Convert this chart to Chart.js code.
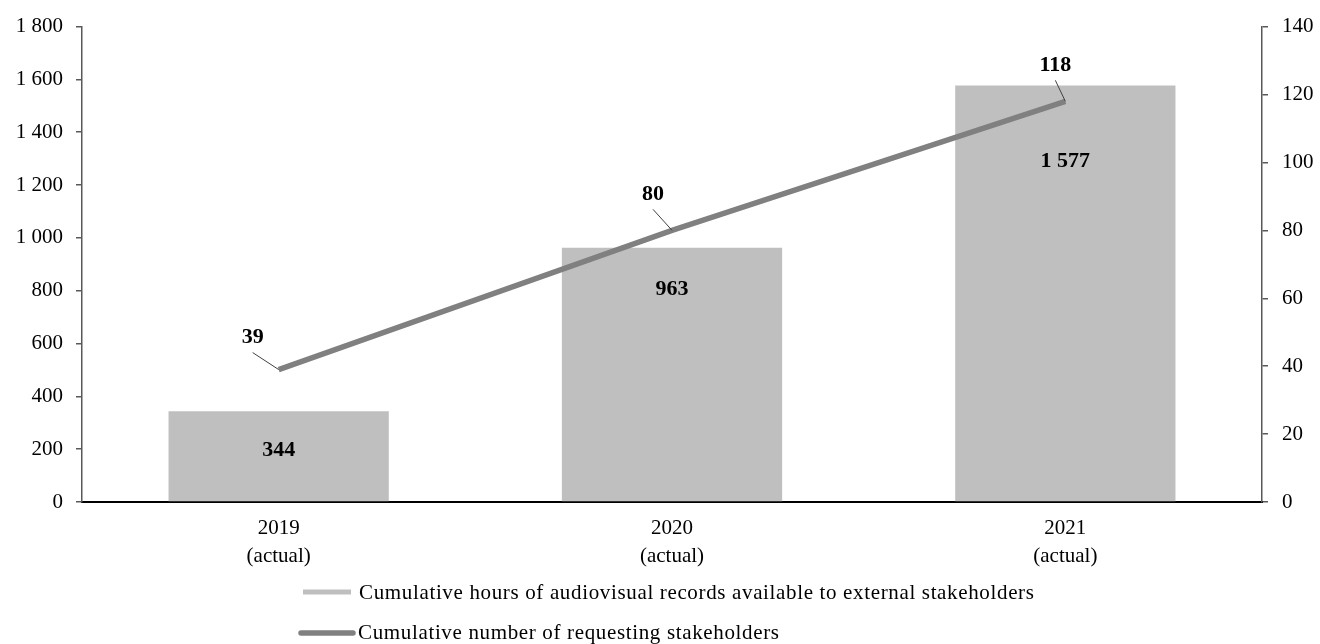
<!DOCTYPE html>
<html>
<head>
<meta charset="utf-8">
<script src="https://cdn.jsdelivr.net/npm/chart.js@4.4.1/dist/chart.umd.min.js"></script>
<style>
  html, body { margin: 0; padding: 0; background: #ffffff; }
  #wrap { width: 1320px; height: 644px; }
</style>
</head>
<body>
<div id="wrap"><canvas id="c" width="1320" height="644"></canvas></div>
<script>
// ---- data ----
const categories = [['2019', '(actual)'], ['2020', '(actual)'], ['2021', '(actual)']];
const hoursValues = [344, 963, 1577];
const stakeholderValues = [39, 80, 118];
const leftTicks = [0, 200, 400, 600, 800, 1000, 1200, 1400, 1600, 1800];
const rightTicks = [0, 20, 40, 60, 80, 100, 120, 140];
const seriesNames = [
  'Cumulative hours of audiovisual records available to external stakeholders',
  'Cumulative number of requesting stakeholders'
];

const SERIF = '"Liberation Serif", "Times New Roman", serif';
const fmt = v => String(v).replace(/\B(?=(\d{3})+(?!\d))/g, ' ');

// label placement styles (pixels)
const barLabelOffsets = [39, 42, 76];          // below bar top
const lineLabelOffsets = [[-26, -32], [-19, -36], [-10, -36]]; // relative to point

const labelPlugin = {
  id: 'labels',
  afterDatasetsDraw(chart) {
    const ctx = chart.ctx;
    ctx.save();
    ctx.font = 'bold 22px ' + SERIF;
    ctx.fillStyle = '#000';
    ctx.textAlign = 'center';
    ctx.textBaseline = 'middle';
    const barMeta = chart.getDatasetMeta(1);
    barMeta.data.forEach((el, i) => {
      ctx.fillText(fmt(hoursValues[i]), el.x, el.y + barLabelOffsets[i]);
    });
    const lineMeta = chart.getDatasetMeta(0);
    lineMeta.data.forEach((el, i) => {
      const [dx, dy] = lineLabelOffsets[i];
      const lx = el.x + dx, ly = el.y + dy;
      ctx.fillText(fmt(stakeholderValues[i]), lx, ly);
      ctx.beginPath();
      ctx.strokeStyle = '#404040';
      ctx.lineWidth = 1;
      ctx.moveTo(lx, ly + 15);
      ctx.lineTo(el.x, el.y);
      ctx.stroke();
    });
    ctx.restore();
  }
};

const legendPlugin = {
  id: 'customLegend',
  afterDraw(chart) {
    const ctx = chart.ctx;
    ctx.save();
    ctx.font = '21px ' + SERIF;
    try { ctx.letterSpacing = '0.65px'; } catch (e) {}
    ctx.fillStyle = '#000';
    ctx.textAlign = 'left';
    ctx.textBaseline = 'middle';
    // item 1
    ctx.beginPath();
    ctx.strokeStyle = '#bfbfbf';
    ctx.lineWidth = 5;
    ctx.lineCap = 'butt';
    ctx.moveTo(303, 592); ctx.lineTo(351, 592);
    ctx.stroke();
    ctx.fillText(seriesNames[0], 359, 593);
    // item 2
    ctx.beginPath();
    ctx.strokeStyle = '#808080';
    ctx.lineWidth = 5.5;
    ctx.lineCap = 'round';
    ctx.moveTo(301, 633); ctx.lineTo(353, 633);
    ctx.stroke();
    ctx.fillText(seriesNames[1], 358, 633);
    ctx.restore();
  }
};

new Chart(document.getElementById('c'), {
  data: {
    labels: categories,
    datasets: [
      {
        type: 'line',
        label: seriesNames[1],
        data: stakeholderValues,
        yAxisID: 'y2',
        borderColor: '#808080',
        borderWidth: 5.5,
        pointRadius: 0,
        tension: 0,
        order: 1
      },
      {
        type: 'bar',
        label: seriesNames[0],
        data: hoursValues,
        yAxisID: 'y',
        backgroundColor: '#bfbfbf',
        barPercentage: 0.56,
        categoryPercentage: 1.0,
        order: 2
      }
    ]
  },
  options: {
    responsive: false,
    animation: false,
    devicePixelRatio: 1,
    layout: { padding: { top: 24, left: 0, right: 0, bottom: 0 } },
    plugins: {
      legend: { display: false },
      tooltip: { enabled: false }
    },
    scales: {
      x: {
        grid: { display: false, drawTicks: false },
        border: { display: true, color: '#000', width: 2 },
        ticks: {
          color: '#000',
          font: { family: SERIF, size: 21, lineHeight: 1.33 },
          padding: 13,
          maxRotation: 0
        },
        afterFit(scale) { scale.height = 142; }
      },
      y: {
        position: 'left',
        min: 0, max: 1800,
        afterBuildTicks(scale) { scale.ticks = leftTicks.map(v => ({ value: v })); },
        grid: { drawOnChartArea: false, drawTicks: true, tickLength: 6, color: '#595959', lineWidth: 1.5 },
        border: { display: true, color: '#595959', width: 1.5 },
        ticks: {
          color: '#000',
          font: { family: SERIF, size: 21 },
          padding: 13,
          callback: v => fmt(v)
        },
        afterFit(scale) { scale.width = 82; }
      },
      y2: {
        position: 'right',
        min: 0, max: 140,
        afterBuildTicks(scale) { scale.ticks = rightTicks.map(v => ({ value: v })); },
        grid: { drawOnChartArea: false, drawTicks: true, tickLength: 6, color: '#595959', lineWidth: 1.5 },
        border: { display: true, color: '#595959', width: 1.5 },
        ticks: {
          color: '#000',
          font: { family: SERIF, size: 21 },
          padding: 14,
          callback: v => fmt(v)
        },
        afterFit(scale) { scale.width = 58; }
      }
    }
  },
  plugins: [labelPlugin, legendPlugin]
});
</script>
</body>
</html>
